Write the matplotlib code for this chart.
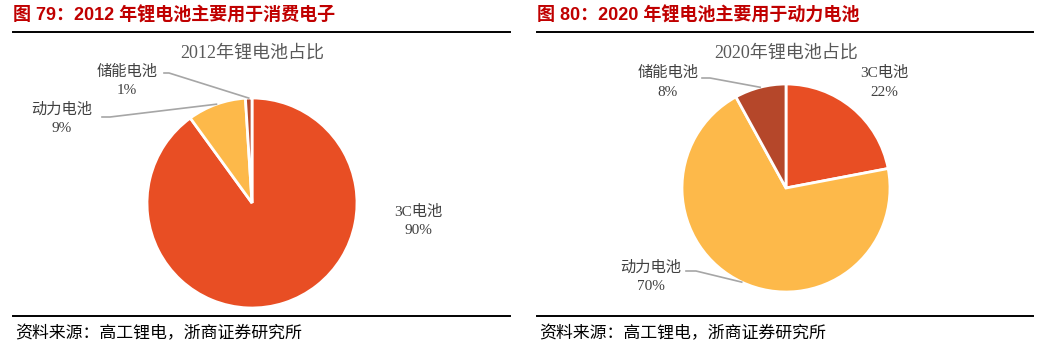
import matplotlib
matplotlib.use("Agg")
import matplotlib.pyplot as plt
from matplotlib.lines import Line2D
import numpy as np

W, H = 1044, 341

# ---- data ----
categories_2012 = ["3C电池", "动力电池", "储能电池"]
values_2012 = [90, 9, 1]
categories_2020 = ["3C电池", "动力电池", "储能电池"]
values_2020 = [22, 70, 8]
colors = ["#E84E24", "#FDB94A", "#B5472A"]

fig_titles = ["图 79：2012 年锂电池主要用于消费电子", "图 80：2020 年锂电池主要用于动力电池"]
chart_titles = ["2012年锂电池占比", "2020年锂电池占比"]
source_text = "资料来源：高工锂电，浙商证券研究所"

fig = plt.figure(figsize=(W / 100, H / 100), dpi=100)

SANS = ["Liberation Sans", "Noto Sans CJK SC"]
SERIF = ["Liberation Serif", "Noto Sans CJK SC"]
LBL_COLOR = "#404040"
LINE_COLOR = "#A6A6A6"


def fx(x):
    return x / W


def fy(y):
    return 1 - y / H


def panel(x0, x1, cx, cy, r, title, ctitle, cats, vals, label_pos):
    # header
    fig.text(fx(x0), fy(16), title, family=SANS, weight="bold", color="#C00000",
             fontsize=13, va="center", ha="left")
    fig.add_artist(Line2D([fx(x0), fx(x1)], [fy(32), fy(32)], color="black", lw=1.4))
    fig.add_artist(Line2D([fx(x0), fx(x1)], [fy(316), fy(316)], color="black", lw=1.4))
    fig.text(fx(x0 + 2), fy(333), source_text, family=["Noto Sans CJK SC"], color="black",
             fontsize=12.2, va="center", ha="left")
    fig.text(fx(cx), fy(53), ctitle, family=SERIF, color="#595959", fontsize=13,
             va="center", ha="center")

    ax = fig.add_axes([fx(cx - r), fy(cy + r), 2 * r / W, 2 * r / H])
    wedges, _ = ax.pie(vals, colors=colors, startangle=90, counterclock=False,
                       radius=1, wedgeprops=dict(edgecolor="white", linewidth=2))
    ax.set_xlim(-1, 1)
    ax.set_ylim(-1, 1)
    ax.set_aspect("auto")
    ax.axis("off")

    fig.canvas.draw()
    for w, cat, val, lp in zip(wedges, cats, vals, label_pos):
        tx, ty, line = lp
        fig.text(fx(tx), fy(ty), cat, family=SERIF, color=LBL_COLOR, fontsize=11,
                 ha="center", va="center")
        fig.text(fx(tx), fy(ty + 19), f"{val}%", family=SERIF, color=LBL_COLOR,
                 fontsize=11, ha="center", va="center")
        if line is not None:
            sx, sy, stub = line
            mid = np.deg2rad((w.theta1 + w.theta2) / 2)
            px, py = ax.transData.transform((np.cos(mid), np.sin(mid)))
            ex, ey = px / W, py / H
            fig.add_artist(Line2D([fx(sx), fx(sx + stub), ex], [fy(sy), fy(sy), ey],
                                  color=LINE_COLOR, lw=1.2))


panel(13, 510, 252, 203, 105, fig_titles[0], chart_titles[0],
      categories_2012, values_2012,
      [(418, 212, None), (62, 110, (102, 117, 8)), (127, 72, (164, 73, 5))])
panel(537, 1033, 786, 188, 104, fig_titles[1], chart_titles[1],
      categories_2020, values_2020,
      [(884, 73, None), (651, 268, (686, 271, 10)), (668, 73, (702, 78, 8))])

fig.savefig("out.png", dpi=100)
